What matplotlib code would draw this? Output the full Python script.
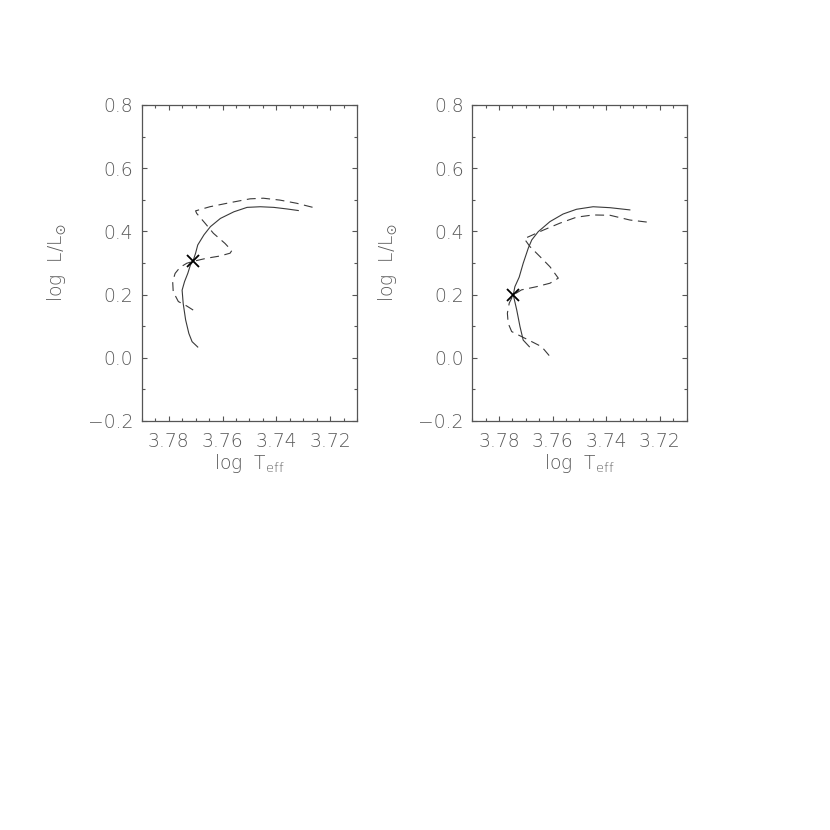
import matplotlib
matplotlib.use("Agg")
import matplotlib.pyplot as plt
from matplotlib.ticker import MultipleLocator

# ---- data ----
left_solid_x = [3.7692, 3.7713, 3.7725, 3.7737, 3.7746, 3.7750, 3.7741, 3.7729, 3.7719, 3.7710,
                3.7700, 3.7692, 3.7669, 3.7645, 3.7608, 3.7558, 3.7509, 3.7460, 3.7410, 3.7361, 3.7319]
left_solid_y = [0.034, 0.051, 0.077, 0.120, 0.172, 0.214, 0.241, 0.267, 0.294, 0.305,
                0.331, 0.357, 0.389, 0.415, 0.441, 0.462, 0.476, 0.478, 0.476, 0.471, 0.466]

left_dash_x = [3.7709, 3.7733, 3.7764, 3.7783, 3.7785, 3.7776, 3.7758, 3.7733, 3.7710,
               3.7659, 3.7610, 3.7572, 3.7566, 3.7591, 3.7634, 3.7665, 3.7696, 3.7700,
               3.7647, 3.7572, 3.7498, 3.7449, 3.7387, 3.7325, 3.7251]
left_dash_y = [0.151, 0.164, 0.178, 0.209, 0.241, 0.267, 0.286, 0.299, 0.305,
               0.315, 0.322, 0.331, 0.339, 0.362, 0.394, 0.426, 0.457, 0.465,
               0.478, 0.491, 0.503, 0.505, 0.499, 0.489, 0.473]

right_solid_x = [3.7687, 3.7710, 3.7722, 3.7734, 3.7747, 3.7741, 3.7725, 3.7710, 3.7691, 3.7678,
                 3.7654, 3.7610, 3.7561, 3.7511, 3.7449, 3.7386, 3.7312]
right_solid_y = [0.035, 0.056, 0.099, 0.151, 0.199, 0.225, 0.255, 0.299, 0.347, 0.373,
                 0.399, 0.431, 0.455, 0.470, 0.478, 0.475, 0.468]

right_dash_x = [3.7613, 3.7641, 3.7678, 3.7716, 3.7753, 3.7766, 3.7769, 3.7762, 3.7747,
                3.7716, 3.7660, 3.7610, 3.7579, 3.7610, 3.7647, 3.7685, 3.7706, 3.7682,
                3.7635, 3.7573, 3.7511, 3.7449, 3.7386, 3.7312, 3.7244]
right_dash_y = [0.007, 0.035, 0.051, 0.067, 0.083, 0.109, 0.141, 0.173, 0.199,
                0.215, 0.225, 0.236, 0.252, 0.288, 0.320, 0.352, 0.377, 0.386,
                0.404, 0.426, 0.445, 0.452, 0.451, 0.436, 0.429]

markers_x = [3.7710, 3.7747]
markers_y = [0.305, 0.199]

xticks = [3.78, 3.76, 3.74, 3.72]
xtick_labels = ["3.78", "3.76", "3.74", "3.72"]
yticks = [-0.2, 0.0, 0.2, 0.4, 0.6, 0.8]
ytick_labels = ["\u22120.2", "0.0", "0.2", "0.4", "0.6", "0.8"]

plt.rcParams['font.family'] = ['DejaVu Sans']
plt.rcParams['font.weight'] = 200
plt.rcParams['mathtext.default'] = 'regular'

LINE = '#3a3a3a'
AX = '#555555'
TXT = '#5a5a5a'
FS = 13.5

fig = plt.figure(figsize=(8.3, 8.3), dpi=100)
panels = [
    ([0.1707, 0.4928, 0.2598, 0.3807], left_solid_x, left_solid_y, left_dash_x, left_dash_y, 0),
    ([0.5690, 0.4928, 0.2583, 0.3807], right_solid_x, right_solid_y, right_dash_x, right_dash_y, 1),
]
for rect, sx, sy, dx, dy, k in panels:
    ax = fig.add_axes(rect)
    ax.plot(sx, sy, color=LINE, lw=0.8)
    ax.plot(dx, dy, color=LINE, lw=0.8, dashes=(8, 5))
    ax.plot([markers_x[k]], [markers_y[k]], marker='x', color='black', ms=8, mew=1.3, ls='none')
    ax.set_xlim(3.79, 3.71)
    ax.set_ylim(-0.2, 0.8)
    ax.set_xticks(xticks)
    ax.set_xticklabels(xtick_labels, fontweight=200)
    ax.set_yticks(yticks)
    ax.set_yticklabels(ytick_labels, fontweight=200)
    ax.xaxis.set_minor_locator(MultipleLocator(0.005))
    ax.yaxis.set_minor_locator(MultipleLocator(0.1))
    ax.tick_params(which='both', direction='in', top=True, right=True, colors=AX, width=0.8)
    ax.tick_params(which='major', length=3.6)
    ax.tick_params(which='minor', length=2.0)
    ax.tick_params(axis='x', which='major', pad=8.0, labelsize=FS, labelcolor=TXT)
    ax.tick_params(axis='y', which='major', pad=6, labelsize=FS, labelcolor=TXT)
    for s in ax.spines.values():
        s.set_color(AX)
        s.set_linewidth(0.9)
    ax.set_xlabel(r'log  T$_{\rm eff}$', fontsize=FS, color=TXT, fontweight=200)
    ax.set_ylabel(r'log  L/L$_{\odot}$', fontsize=FS, color=TXT, fontweight=200)
    ax.xaxis.set_label_coords(0.5, -0.098)
    ax.yaxis.set_label_coords(-0.34, 0.5)

fig.savefig('out.png', dpi=100)
